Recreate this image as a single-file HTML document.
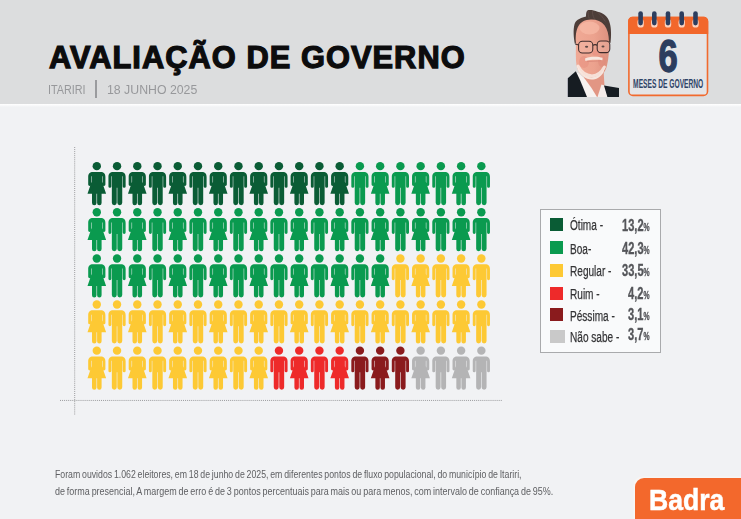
<!DOCTYPE html>
<html><head><meta charset="utf-8"><title>Avaliação de Governo</title>
<style>
html,body{margin:0;padding:0}
body{width:741px;height:519px;overflow:hidden;position:relative;background:#f1f2f4;font-family:"Liberation Sans",sans-serif}
.hdr{position:absolute;left:0;top:0;width:741px;height:104px;background:#dcddde}
.hl{position:absolute;left:0;top:103.6px;width:741px;height:3.4px;background:linear-gradient(#ffffff 0%,#fbfbfc 35%,#f1f2f4 100%)}
.title{position:absolute;left:48.9px;top:40.3px;font-weight:bold;font-size:30.8px;line-height:36px;color:#0c0c0d;white-space:nowrap;transform-origin:0 0;letter-spacing:1.05px;-webkit-text-stroke:1.25px #0c0c0d}
.sub{position:absolute;left:48px;top:83.3px;font-size:12px;line-height:14px;color:#97989b;white-space:nowrap;transform-origin:0 0}
.bar{position:absolute;left:95.4px;top:80px;width:1.5px;height:17.6px;background:#9a9b9e}
svg.chart{position:absolute;left:0;top:0}
.legend{position:absolute;left:539.7px;top:208.6px;width:119px;height:142px;border:1px solid #a9aaac;background:#f9fafb;box-sizing:content-box}
.sw{position:absolute;left:550px;width:13px;height:13px}
.lb{position:absolute;left:570.3px;font-size:15.5px;line-height:18px;height:18px;color:#343436;-webkit-text-stroke:0.25px #343436;white-space:nowrap;transform-origin:0 0;transform:scaleX(.65)}
.nv{position:absolute;right:91px;font-size:16.3px;line-height:19px;height:19px;font-weight:bold;color:#55565a;-webkit-text-stroke:0.35px #55565a;white-space:nowrap;transform-origin:100% 0;transform:scaleX(.68)}
.nv span{font-size:10px;font-weight:bold}
.ft{position:absolute;left:54.6px;font-size:11.7px;line-height:14px;color:#5f6063;word-spacing:-0.8px;white-space:nowrap;transform-origin:0 0}
.badra{position:absolute;left:635px;top:478px;width:110px;height:45px;background:#f3682c;border-top-left-radius:9px;box-shadow:-1.5px -1.5px 0 0 #f8f5f3}
.btxt{position:absolute;left:648.5px;top:483.7px;font-weight:bold;font-size:28.6px;line-height:32px;color:#fff;transform-origin:0 0;white-space:nowrap;transform:scaleX(.93);-webkit-text-stroke:0.5px #fff}
</style></head>
<body>
<div class="hdr"></div><div class="hl"></div>
<div class="title" id="title">AVALIAÇÃO DE GOVERNO</div>
<div class="sub" id="sub1" style="transform:scaleX(.9);left:47.5px">ITARIRI</div>
<div class="bar"></div>
<div class="sub" id="sub2" style="left:107px;transform:scaleX(1.025)">18 JUNHO 2025</div>

<svg class="chart" width="741" height="519" viewBox="0 0 741 519">
<defs>
<g id="f">
 <circle cx="0" cy="4.35" r="4.2"/>
 <path d="M-8.6 15.2 C-8.6 11.6 -7 10.1 -3.8 10.1 H3.8 C7 10.1 8.6 11.6 8.6 15.2 V22.7 A1.45 1.45 0 0 1 5.7 22.7 V14.5 H5.2 V20 L9.3 32 H-9.3 L-5.2 20 V14.5 H-5.7 V22.7 A1.45 1.45 0 0 1 -8.6 22.7 Z"/>
 <path d="M-4.8 31 H-0.3 V41.1 A2.25 2.25 0 0 1 -4.8 41.1 Z M0.3 31 H4.8 V41.1 A2.25 2.25 0 0 1 0.3 41.1 Z"/>
</g>
<g id="m">
 <circle cx="0" cy="4.35" r="4.2"/>
 <path d="M-8.6 15.2 C-8.6 11.6 -7 10.1 -3.8 10.1 H3.8 C7 10.1 8.6 11.6 8.6 15.2 V24.6 A1.45 1.45 0 0 1 5.7 24.6 V14.5 H5.2 V40.9 A2.45 2.45 0 0 1 0.3 40.9 V26 H-0.3 V40.9 A2.45 2.45 0 0 1 -5.2 40.9 V14.5 H-5.7 V24.6 A1.45 1.45 0 0 1 -8.6 24.6 Z"/>
</g>
</defs>
<line x1="74.7" y1="147" x2="74.7" y2="415" stroke="#9a9b9d" stroke-width="1" stroke-dasharray="1 1.05"/>
<line x1="60" y1="400.45" x2="502" y2="400.45" stroke="#9a9b9d" stroke-width="1" stroke-dasharray="1 1.05"/>
<use href="#f" x="96.80" y="161.80" fill="#0a5c35"/>
<use href="#m" x="117.04" y="161.80" fill="#0a5c35"/>
<use href="#f" x="137.28" y="161.80" fill="#0a5c35"/>
<use href="#m" x="157.52" y="161.80" fill="#0a5c35"/>
<use href="#f" x="177.76" y="161.80" fill="#0a5c35"/>
<use href="#m" x="198.00" y="161.80" fill="#0a5c35"/>
<use href="#f" x="218.24" y="161.80" fill="#0a5c35"/>
<use href="#m" x="238.48" y="161.80" fill="#0a5c35"/>
<use href="#f" x="258.72" y="161.80" fill="#0a5c35"/>
<use href="#m" x="278.96" y="161.80" fill="#0a5c35"/>
<use href="#f" x="299.20" y="161.80" fill="#0a5c35"/>
<use href="#m" x="319.44" y="161.80" fill="#0a5c35"/>
<use href="#f" x="339.68" y="161.80" fill="#0a5c35"/>
<use href="#m" x="359.92" y="161.80" fill="#0a9a4f"/>
<use href="#f" x="380.16" y="161.80" fill="#0a9a4f"/>
<use href="#m" x="400.40" y="161.80" fill="#0a9a4f"/>
<use href="#f" x="420.64" y="161.80" fill="#0a9a4f"/>
<use href="#m" x="440.88" y="161.80" fill="#0a9a4f"/>
<use href="#f" x="461.12" y="161.80" fill="#0a9a4f"/>
<use href="#m" x="481.36" y="161.80" fill="#0a9a4f"/>
<use href="#f" x="96.80" y="207.90" fill="#0a9a4f"/>
<use href="#m" x="117.04" y="207.90" fill="#0a9a4f"/>
<use href="#f" x="137.28" y="207.90" fill="#0a9a4f"/>
<use href="#m" x="157.52" y="207.90" fill="#0a9a4f"/>
<use href="#f" x="177.76" y="207.90" fill="#0a9a4f"/>
<use href="#m" x="198.00" y="207.90" fill="#0a9a4f"/>
<use href="#f" x="218.24" y="207.90" fill="#0a9a4f"/>
<use href="#m" x="238.48" y="207.90" fill="#0a9a4f"/>
<use href="#f" x="258.72" y="207.90" fill="#0a9a4f"/>
<use href="#m" x="278.96" y="207.90" fill="#0a9a4f"/>
<use href="#f" x="299.20" y="207.90" fill="#0a9a4f"/>
<use href="#m" x="319.44" y="207.90" fill="#0a9a4f"/>
<use href="#f" x="339.68" y="207.90" fill="#0a9a4f"/>
<use href="#m" x="359.92" y="207.90" fill="#0a9a4f"/>
<use href="#f" x="380.16" y="207.90" fill="#0a9a4f"/>
<use href="#m" x="400.40" y="207.90" fill="#0a9a4f"/>
<use href="#f" x="420.64" y="207.90" fill="#0a9a4f"/>
<use href="#m" x="440.88" y="207.90" fill="#0a9a4f"/>
<use href="#f" x="461.12" y="207.90" fill="#0a9a4f"/>
<use href="#m" x="481.36" y="207.90" fill="#0a9a4f"/>
<use href="#f" x="96.80" y="254.10" fill="#0a9a4f"/>
<use href="#m" x="117.04" y="254.10" fill="#0a9a4f"/>
<use href="#f" x="137.28" y="254.10" fill="#0a9a4f"/>
<use href="#m" x="157.52" y="254.10" fill="#0a9a4f"/>
<use href="#f" x="177.76" y="254.10" fill="#0a9a4f"/>
<use href="#m" x="198.00" y="254.10" fill="#0a9a4f"/>
<use href="#f" x="218.24" y="254.10" fill="#0a9a4f"/>
<use href="#m" x="238.48" y="254.10" fill="#0a9a4f"/>
<use href="#f" x="258.72" y="254.10" fill="#0a9a4f"/>
<use href="#m" x="278.96" y="254.10" fill="#0a9a4f"/>
<use href="#f" x="299.20" y="254.10" fill="#0a9a4f"/>
<use href="#m" x="319.44" y="254.10" fill="#0a9a4f"/>
<use href="#f" x="339.68" y="254.10" fill="#0a9a4f"/>
<use href="#m" x="359.92" y="254.10" fill="#0a9a4f"/>
<use href="#f" x="380.16" y="254.10" fill="#0a9a4f"/>
<use href="#m" x="400.40" y="254.10" fill="#fdc934"/>
<use href="#f" x="420.64" y="254.10" fill="#fdc934"/>
<use href="#m" x="440.88" y="254.10" fill="#fdc934"/>
<use href="#f" x="461.12" y="254.10" fill="#fdc934"/>
<use href="#m" x="481.36" y="254.10" fill="#fdc934"/>
<use href="#f" x="96.80" y="300.20" fill="#fdc934"/>
<use href="#m" x="117.04" y="300.20" fill="#fdc934"/>
<use href="#f" x="137.28" y="300.20" fill="#fdc934"/>
<use href="#m" x="157.52" y="300.20" fill="#fdc934"/>
<use href="#f" x="177.76" y="300.20" fill="#fdc934"/>
<use href="#m" x="198.00" y="300.20" fill="#fdc934"/>
<use href="#f" x="218.24" y="300.20" fill="#fdc934"/>
<use href="#m" x="238.48" y="300.20" fill="#fdc934"/>
<use href="#f" x="258.72" y="300.20" fill="#fdc934"/>
<use href="#m" x="278.96" y="300.20" fill="#fdc934"/>
<use href="#f" x="299.20" y="300.20" fill="#fdc934"/>
<use href="#m" x="319.44" y="300.20" fill="#fdc934"/>
<use href="#f" x="339.68" y="300.20" fill="#fdc934"/>
<use href="#m" x="359.92" y="300.20" fill="#fdc934"/>
<use href="#f" x="380.16" y="300.20" fill="#fdc934"/>
<use href="#m" x="400.40" y="300.20" fill="#fdc934"/>
<use href="#f" x="420.64" y="300.20" fill="#fdc934"/>
<use href="#m" x="440.88" y="300.20" fill="#fdc934"/>
<use href="#f" x="461.12" y="300.20" fill="#fdc934"/>
<use href="#m" x="481.36" y="300.20" fill="#fdc934"/>
<use href="#f" x="96.80" y="346.30" fill="#fdc934"/>
<use href="#m" x="117.04" y="346.30" fill="#fdc934"/>
<use href="#f" x="137.28" y="346.30" fill="#fdc934"/>
<use href="#m" x="157.52" y="346.30" fill="#fdc934"/>
<use href="#f" x="177.76" y="346.30" fill="#fdc934"/>
<use href="#m" x="198.00" y="346.30" fill="#fdc934"/>
<use href="#f" x="218.24" y="346.30" fill="#fdc934"/>
<use href="#m" x="238.48" y="346.30" fill="#fdc934"/>
<use href="#f" x="258.72" y="346.30" fill="#fdc934"/>
<use href="#m" x="278.96" y="346.30" fill="#ee2a2a"/>
<use href="#f" x="299.20" y="346.30" fill="#ee2a2a"/>
<use href="#m" x="319.44" y="346.30" fill="#ee2a2a"/>
<use href="#f" x="339.68" y="346.30" fill="#ee2a2a"/>
<use href="#m" x="359.92" y="346.30" fill="#8a1b1d"/>
<use href="#f" x="380.16" y="346.30" fill="#8a1b1d"/>
<use href="#m" x="400.40" y="346.30" fill="#8a1b1d"/>
<use href="#f" x="420.64" y="346.30" fill="#b4b4b5"/>
<use href="#m" x="440.88" y="346.30" fill="#b4b4b5"/>
<use href="#f" x="461.12" y="346.30" fill="#b4b4b5"/>
<use href="#m" x="481.36" y="346.30" fill="#b4b4b5"/>
</svg>

<div class="legend"></div>
<div class="sw" style="top:218.0px;background:#0a5c35"></div>
<div class="lb" style="top:216.4px">Ótima -</div>
<div class="nv" style="top:215.5px">13,2<span>%</span></div>
<div class="sw" style="top:241.2px;background:#0a9a4f"></div>
<div class="lb" style="top:239.5px">Boa-</div>
<div class="nv" style="top:238.6px">42,3<span>%</span></div>
<div class="sw" style="top:264.2px;background:#fdc934"></div>
<div class="lb" style="top:262.2px">Regular -</div>
<div class="nv" style="top:261.3px">33,5<span>%</span></div>
<div class="sw" style="top:287.4px;background:#ee2a2a"></div>
<div class="lb" style="top:284.5px">Ruim -</div>
<div class="nv" style="top:283.6px">4,2<span>%</span></div>
<div class="sw" style="top:308.1px;background:#8a1b1d"></div>
<div class="lb" style="top:306.6px">Péssima -</div>
<div class="nv" style="top:305.0px">3,1<span>%</span></div>
<div class="sw" style="top:330.0px;background:#c9c9c9;width:14.5px"></div>
<div class="lb" style="top:327.7px">Não sabe -</div>
<div class="nv" style="top:325.1px">3,7<span>%</span></div>

<div class="ft" id="ft1" style="top:466.8px;transform:scaleX(.7467)">Foram ouvidos 1.062 eleitores, em 18 de junho de 2025, em diferentes pontos de fluxo populacional, do município de Itariri,</div>
<div class="ft" id="ft2" style="top:483.8px;transform:scaleX(.767)">de forma presencial, A margem de erro é de 3 pontos percentuais para mais ou para menos, com intervalo de confiança de 95%.</div>

<div class="badra"></div>
<div class="btxt" id="btxt">Badra</div>

<svg style="position:absolute;left:0;top:0" width="741" height="110" viewBox="0 0 741 110">
<defs>
<filter id="b1" x="-10%" y="-10%" width="120%" height="120%"><feGaussianBlur stdDeviation="0.45"/></filter>
<filter id="b2" x="-20%" y="-20%" width="140%" height="140%"><feGaussianBlur stdDeviation="0.9"/></filter>
<linearGradient id="skin" x1="0" y1="0" x2="1" y2="0"><stop offset="0" stop-color="#f0a995"/><stop offset=".55" stop-color="#eca28e"/><stop offset="1" stop-color="#dc917f"/></linearGradient>
</defs>
<!-- portrait -->
<g filter="url(#b1)">
 <!-- neck -->
 <path d="M583 72 L603.5 70 L604.5 86 L600 97 L588 97 Z" fill="#e29684"/>
 <!-- shirt -->
 <path d="M575.6 72.2 L579 73.4 L585 79 L591.5 88 L597 97 L586 97 Z" fill="#f7f2f0"/>
 <path d="M601.5 84.5 L604.5 85.5 L607.6 97 L597.5 97 Z" fill="#f4ecea"/>
 <!-- suit -->
 <path d="M567.8 78.2 L575.8 71.2 L580 80 L587 97 L567.8 97 Z" fill="#141a22"/>
 <path d="M604 85.4 L619 88 L619 97 L607.4 97 Z" fill="#141a22"/>
 <!-- hair -->
 <path d="M575 44.5 C573.6 38 573 30 574.5 24.3 C575.6 21 578.3 18.5 586 16.6 C586 14 586.2 11.4 587.4 10.4 C589 9.4 594 10 597.6 11.7 C600.5 12.4 603 13.4 604.8 15 C607.4 17 609.2 20 610 24 C611.2 28 611.4 36 610.5 43 L607.6 41.5 L576.6 41.5 Z" fill="#4d3d39"/>
 <path d="M588.2 11 C588 13 588.2 16 589.2 18.6 M592.6 10.6 C592.2 13 592.8 16 594.4 18.8 M598 12.6 C600 14.4 603 17.4 605.4 21.6" stroke="#6a5650" stroke-width=".7" fill="none" opacity=".8"/>
 <!-- face -->
 <path d="M575.9 42 C575.3 29 578.6 19.9 591 19.6 C603.2 19.6 608.8 27.6 609 42 C609.2 50 608.8 58 607 65.5 C605.4 73 599.5 79.4 592 79.4 C584.5 79.4 578.2 73.6 576.6 66 C575.4 59 576 50 575.9 42 Z" fill="url(#skin)"/>
 <!-- forehead highlight -->
 <ellipse cx="589.5" cy="28" rx="10" ry="6.5" fill="#f7baa6" opacity=".75"/>
 <!-- cheeks -->
 <ellipse cx="584" cy="62" rx="5" ry="6" fill="#e78f80" opacity=".55"/>
 <ellipse cx="602" cy="61" rx="4" ry="6" fill="#e08a7a" opacity=".55"/>
 <!-- beard -->
 <path d="M577 64.5 C578.5 70 584 76.5 591.5 77.5 C598.5 77 603.6 72 605 66.5 L603.5 72.5 C600 77.5 596 79.6 591.8 79.6 C585.6 79.4 580 75 577.6 69.5 Z" fill="#f6e6de"/>
 <path d="M578 66 C581 72 586 75.5 592 76 C598 75.4 602 71.6 604.4 67" stroke="#f8ebe4" stroke-width="3" fill="none" stroke-linecap="round" opacity=".85"/>
 <!-- moustache -->
 <path d="M585 58.6 C588 56.4 598 56 602.6 57.8 L602.4 60.2 C598 59.4 589 59.6 585.4 61 Z" fill="#f7e7df"/>
 <path d="M587 61.6 L601 60.8" stroke="#d98878" stroke-width=".8"/>
 <!-- nose -->
 <ellipse cx="596" cy="53" rx="3.6" ry="2.6" fill="#ea9786"/>
</g>
<!-- glasses -->
<g fill="#f3c1b3" fill-opacity=".35" stroke="#3e2c2c" stroke-width="1.05" filter="url(#b1)">
 <rect x="578.6" y="41.2" width="14.2" height="11.8" rx="3.8"/>
 <rect x="597.2" y="41" width="12.6" height="11.6" rx="3.6"/>
 <path d="M592.8 45.4 Q595 44 597.2 45.2" fill="none"/>
 <path d="M578.8 45 L575.2 44" fill="none"/>
</g>
<!-- eyes -->
<g filter="url(#b1)"><ellipse cx="586.6" cy="46.8" rx="1.6" ry="1" fill="#5a4744"/><ellipse cx="603" cy="46.4" rx="1.5" ry="1" fill="#5a4744"/></g>

<!-- calendar -->
<rect x="628.9" y="17.6" width="78.6" height="77.8" rx="4" fill="#e4e5e7" stroke="#f16a2e" stroke-width="1.6"/>
<path d="M628.1 34 V21 A4.2 4.2 0 0 1 632.3 16.8 H704 A4.2 4.2 0 0 1 708.2 21 V34 Z" fill="#f2672b"/>
<g fill="#fad3c0">
 <rect x="637.4" y="19" width="6.4" height="8.6" rx="3.2"/><rect x="651.1" y="19" width="6.4" height="8.6" rx="3.2"/><rect x="664.8" y="19" width="6.4" height="8.6" rx="3.2"/><rect x="678.5" y="19" width="6.4" height="8.6" rx="3.2"/><rect x="692.3" y="19" width="6.4" height="8.6" rx="3.2"/>
</g>
<g fill="#2c3d5e">
 <rect x="638.3" y="11.2" width="4.6" height="14.2" rx="2.3"/><rect x="652" y="11.2" width="4.6" height="14.2" rx="2.3"/><rect x="665.7" y="11.2" width="4.6" height="14.2" rx="2.3"/><rect x="679.4" y="11.2" width="4.6" height="14.2" rx="2.3"/><rect x="693.2" y="11.2" width="4.6" height="14.2" rx="2.3"/>
</g>
<text id="six" x="0" y="0" transform="translate(668.2 72.4) scale(.76 1)" text-anchor="middle" font-family="Liberation Sans, sans-serif" font-weight="bold" font-size="45.5" fill="#2c3d5e" stroke="#2c3d5e" stroke-width="1.3">6</text>
<text id="meses" x="633.1" y="87.9" textLength="70.2" lengthAdjust="spacingAndGlyphs" font-family="Liberation Sans, sans-serif" font-weight="bold" font-size="12.2" fill="#2f4467">MESES DE GOVERNO</text>
</svg>

</body></html>
